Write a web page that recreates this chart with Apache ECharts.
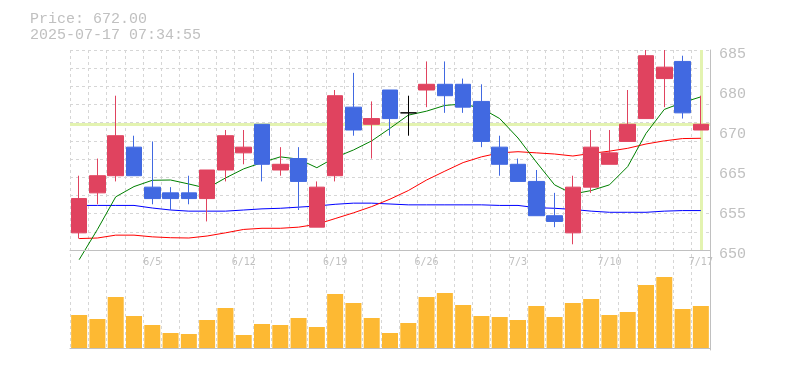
<!DOCTYPE html>
<html><head><meta charset="utf-8">
<script src="https://cdn.jsdelivr.net/npm/echarts@6/dist/echarts.min.js"></script>
<style>html,body{margin:0;padding:0;background:#fff}#c{width:785px;height:370px}</style>
</head><body><div id="c"></div>
<script>
const dates = ['5/30','6/2','6/3','6/4','6/5','6/6','6/9','6/10','6/11','6/12','6/13','6/16','6/17','6/18','6/19','6/20','6/23','6/24','6/25','6/26','6/27','6/30','7/1','7/2','7/3','7/4','7/7','7/8','7/9','7/10','7/11','7/14','7/15','7/16','7/17'];
const opens  = [653,660,663,668,661,660,660,659,664,667,672,664,666,654,663,675,672,678,674,678,679,679,676,668,665,662,656,653,661,665,669,673,680,683,671];
const closes = [659,663,670,663,659,659,659,664,670,668,665,665,662,661,677,671,673,673,674,679,677,675,669,665,662,656,655,661,668,667,672,684,682,674,672];
const lows   = [652,658,662,663,658,657,658,655,662,665,662,663,657,654,662,670,666,670,670,675,674,674,668,663,662,656,654,651,660,665,669,673,675,673,671];
const highs  = [663,666,677,670,669,661,663,664,671,671,672,668,668,662,678,681,676,678,677,683,683,680,679,670,666,664,660,663,671,671,678,685,685,684,677];
const ma5  = [648.3,653.6,659.3,661.1,662.2,662.25,661.55,660.8,662.6,664.2,665.3,666.3,665.9,664.4,666.2,667.5,669.1,671.3,673.6,674.3,675.3,675.55,674.8,673.0,669.6,665.4,661.4,659.8,660.4,661.4,664.6,670.4,674.6,675.8,676.8];
const ma25 = [652.0,652.1,652.6,652.6,652.3,652.15,652.1,652.45,653.0,653.6,653.8,653.8,654.0,654.5,655.5,656.5,657.6,658.9,660.4,662.25,663.8,665.3,666.3,667.0,667.2,667.0,666.8,666.45,666.9,667.3,667.8,668.55,669.1,669.5,669.55];
const ma75 = [657.8,657.8,657.8,657.8,657.35,657.0,656.8,656.8,656.8,657.0,657.2,657.3,657.5,657.7,658.0,658.2,658.2,658.05,657.9,657.9,657.9,657.9,657.9,657.8,657.8,657.4,657.3,657.1,656.8,656.6,656.6,656.6,656.8,656.9,656.9];
const volumes = [33000,29000,51000,32000,23000,15000,14000,28000,40000,13000,24000,23000,30000,21000,54000,45000,30000,15000,25000,51000,55000,43000,32000,31000,28000,42000,31000,45000,49000,33000,36000,63000,71000,39000,42000];
const yTickLabels = ['650','655','665','670','680','685'];
const timestamp = '2025-07-17 07:34:55';

const last = dates.length - 1;
const ohlc = dates.map((d, i) => [opens[i], closes[i], lows[i], highs[i]]);
const gridColor = '#d6d6d6';
const axisColor = '#c0c0c0';
const textColor = '#c0c0c0';

const chart = echarts.init(document.getElementById('c'), null, {renderer: 'canvas'});
chart.setOption({
  animation: false,
  backgroundColor: '#fff',
  title: {
    text: 'Price: ' + closes[last].toFixed(2) + '\n' + timestamp,
    left: 30, top: 11, padding: 0,
    textStyle: {fontFamily: 'Liberation Mono', fontSize: 15, fontWeight: 'normal', color: textColor, lineHeight: 16}
  },
  grid: [
    {left: 70, right: 75, top: 50, height: 200},
    {left: 70, right: 75, top: 270, bottom: 22},
    {left: 70, right: 75, top: 50, bottom: 20}
  ],
  xAxis: [
    {type: 'category', gridIndex: 0, data: dates, boundaryGap: true,
     axisLine: {lineStyle: {color: axisColor}}, axisTick: {show: false},
     axisLabel: {interval: (i) => i % 5 === 4, color: textColor, fontFamily: 'DejaVu Sans Mono', fontSize: 10, margin: 7},
     splitLine: {show: false}, z: 3},
    {type: 'category', gridIndex: 1, data: dates, boundaryGap: true, offset: 2,
     axisLine: {lineStyle: {color: axisColor}}, axisTick: {show: false}, axisLabel: {show: false}, splitLine: {show: false}},
    {type: 'category', gridIndex: 2, data: dates, boundaryGap: true,
     axisLine: {show: false}, axisTick: {show: false}, axisLabel: {show: false},
     splitLine: {show: true, interval: 0, lineStyle: {color: gridColor, type: [3, 3]}}}
  ],
  yAxis: [
    {type: 'value', gridIndex: 0, min: 650, max: 685, show: false},
    {type: 'value', gridIndex: 0, position: 'right', min: 0, max: 5, interval: 1,
     axisLine: {show: false}, axisTick: {show: false}, splitLine: {show: false},
     axisLabel: {formatter: (v) => yTickLabels[v], color: textColor, fontFamily: 'Liberation Mono', fontSize: 15, margin: 9, verticalAlign: 'top', lineHeight: 9}},
    {type: 'value', gridIndex: 0, position: 'left', min: 0, max: 11, interval: 1,
     axisLine: {show: false}, axisTick: {show: false}, axisLabel: {show: false},
     splitLine: {show: true, lineStyle: {color: gridColor, type: [3, 3]}}},
    {type: 'value', gridIndex: 1, min: 0, max: 78000, show: false},
    {type: 'value', gridIndex: 2, position: 'right', min: 0, max: 1,
     axisLine: {show: true, lineStyle: {color: axisColor}}, axisTick: {show: false}, axisLabel: {show: false}, splitLine: {show: false}}
  ],
  series: [
    {type: 'line', name: 'MA75', xAxisIndex: 0, yAxisIndex: 0, data: ma75, showSymbol: false, silent: true, z: 2,
     lineStyle: {color: '#0000ff', width: 1}},
    {type: 'line', name: 'MA25', xAxisIndex: 0, yAxisIndex: 0, data: ma25, showSymbol: false, silent: true, z: 2,
     lineStyle: {color: '#ff0000', width: 1}},
    {type: 'line', name: 'MA5', xAxisIndex: 0, yAxisIndex: 0, data: ma5, showSymbol: false, silent: true, z: 2, clip: false,
     lineStyle: {color: '#008000', width: 1}},
    {type: 'candlestick', xAxisIndex: 0, yAxisIndex: 0, data: ohlc, barWidth: 16, z: 3, silent: true,
     itemStyle: {color: '#e0435f', color0: '#4169e1', borderColor: '#e0435f', borderColor0: '#4169e1', borderColorDoji: '#000000', borderWidth: 1},
     markLine: {silent: true, symbol: 'none', z: 1, label: {show: false}, emphasis: {disabled: true},
       lineStyle: {color: '#e3f3b0', width: 3, type: 'solid'},
       data: [{yAxis: closes[last]}, {xAxis: dates[last]}]}},
    {type: 'bar', xAxisIndex: 1, yAxisIndex: 3, data: volumes, barWidth: 16, silent: true,
     itemStyle: {color: '#fdb933'}}
  ]
});
</script>
</body></html>
